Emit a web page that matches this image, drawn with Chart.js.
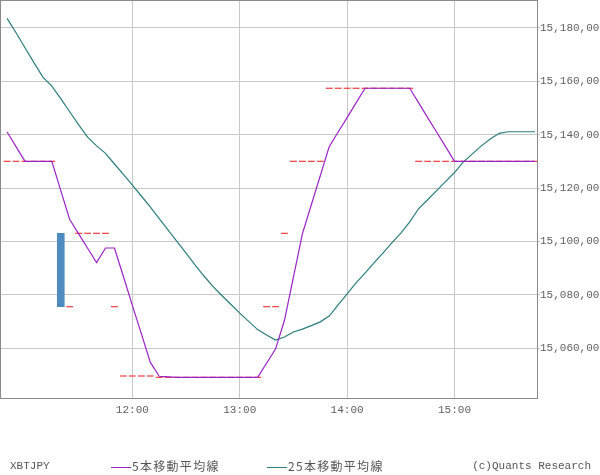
<!DOCTYPE html>
<html>
<head>
<meta charset="utf-8">
<script src="https://cdn.jsdelivr.net/npm/chart.js@4.4.1/dist/chart.umd.min.js"></script>
<style>
    body { margin: 0; background: #fff; }
    #wrap { position: relative; width: 600px; height: 475px; }
    .foot { position: absolute; top: 458px; font: 11px 'Liberation Mono', monospace; color: #555; white-space: nowrap; line-height: 16px; }
    .jp { font-family: 'Noto Sans CJK JP', sans-serif; font-size: 12px; letter-spacing: 1.3px; }
    .swatch { display: inline-block; width: 20px; height: 0; border-top: 1px solid; vertical-align: middle; margin-right: 1px; }
</style>
</head>
<body>
<div id="wrap">
    <canvas id="chart" width="600" height="475"></canvas>
    <div class="foot" style="left:10px;">XBTJPY</div>
    <div class="foot jp" style="left:111px;"><span class="swatch" style="border-color:#9a22c4"></span>5本移動平均線</div>
    <div class="foot jp" style="left:267px;"><span class="swatch" style="border-color:#2b7c7c"></span>25本移動平均線</div>
    <div class="foot" style="right:9px;">(c)Quants Research</div>
</div>
<script>
// 5-minute bars
const times = [
    '10:50', '10:55',
    '11:00', '11:05', '11:10', '11:15', '11:20', '11:25', '11:30', '11:35', '11:40', '11:45', '11:50', '11:55',
    '12:00', '12:05', '12:10', '12:15', '12:20', '12:25', '12:30', '12:35', '12:40', '12:45', '12:50', '12:55',
    '13:00', '13:05', '13:10', '13:15', '13:20', '13:25', '13:30', '13:35', '13:40', '13:45', '13:50', '13:55',
    '14:00', '14:05', '14:10', '14:15', '14:20', '14:25', '14:30', '14:35', '14:40', '14:45', '14:50', '14:55',
    '15:00', '15:05', '15:10', '15:15', '15:20', '15:25', '15:30', '15:35', '15:40', '15:45'
];

const candleOpen = [
    15130, 15130, 15130, 15130, 15130, 15130, 15103, 15075.5, 15103, 15103,
    15103, 15103, 15075.5, 15049.5, 15049.5, 15049.5, 15049.5, 15049, 15049, 15049,
    15049, 15049, 15049, 15049, 15049, 15049, 15049, 15049, 15049, 15075.5,
    15075.5, 15103, 15130, 15130, 15130, 15130, 15157.4, 15157.4, 15157.4, 15157.4,
    15157.4, 15157.4, 15157.4, 15157.4, 15157.4, 15157.4, 15130, 15130, 15130, 15130,
    15130, 15130, 15130, 15130, 15130, 15130, 15130, 15130, 15130, 15130
];

const candleClose = [
    15130, 15130, 15130, 15130, 15130, 15130, 15075.5, 15075.5, 15103, 15103,
    15103, 15103, 15075.5, 15049.5, 15049.5, 15049.5, 15049.5, 15049, 15049, 15049,
    15049, 15049, 15049, 15049, 15049, 15049, 15049, 15049, 15049, 15075.5,
    15075.5, 15103, 15130, 15130, 15130, 15130, 15157.4, 15157.4, 15157.4, 15157.4,
    15157.4, 15157.4, 15157.4, 15157.4, 15157.4, 15157.4, 15130, 15130, 15130, 15130,
    15130, 15130, 15130, 15130, 15130, 15130, 15130, 15130, 15130, 15130
];

const ma5 = [
    15141, 15135.5, 15130, 15130, 15130, 15130, 15119, 15108.2, 15102.8, 15097.4,
    15092, 15097.5, 15097.5, 15086.8, 15076, 15065.4, 15054.7, 15049.4, 15049.2, 15049,
    15049, 15049, 15049, 15049, 15049, 15049, 15049, 15049, 15049, 15054.3,
    15059.6, 15070.4, 15086.6, 15102.8, 15113.7, 15124.6, 15135.5, 15141, 15146.4, 15151.9,
    15157.4, 15157.4, 15157.4, 15157.4, 15157.4, 15157.4, 15151.9, 15146.4, 15141, 15135.5,
    15130, 15130, 15130, 15130, 15130, 15130, 15130, 15130, 15130, 15130
];

const ma25 = [
    15183.6, 15178.2, 15172.6, 15167, 15161.6, 15158.2, 15153.5, 15148.6, 15143.7, 15139.1,
    15135.8, 15133, 15129, 15125.1, 15121.1, 15117, 15112.9, 15108.5, 15104.2, 15099.9,
    15095.6, 15091.2, 15087, 15083.1, 15079.7, 15076.4, 15073.1, 15070, 15066.9, 15064.9,
    15063, 15064.1, 15066, 15067.1, 15068.4, 15069.8, 15072, 15076.2, 15080.3, 15084.4,
    15088.1, 15091.9, 15095.6, 15099.4, 15103.1, 15107.3, 15112.3, 15115.6, 15119, 15122.4,
    15125.8, 15129.8, 15132.8, 15135.8, 15138.4, 15140.5, 15141.1, 15141.1, 15141.1, 15141.1
];

const xTicks = ['12:00', '13:00', '14:00', '15:00'];
const yTicks = [15060, 15080, 15100, 15120, 15140, 15160, 15180];

const toMin = (s) => {
    const [h, m] = s.split(':').map(Number);
    return h * 60 + m;
};

const flatCandles = [];
const bodyCandles = [];
times.forEach((t, i) => {
    if (candleOpen[i] === candleClose[i]) {
        flatCandles.push({ x: toMin(t), y: candleClose[i] });
    } else {
        bodyCandles.push({ x: toMin(t), y: [candleOpen[i], candleClose[i]] });
    }
});

const tickFont = { family: "'Liberation Mono', monospace", size: 11 };

// frame round the plot area
const framePlugin = {
    id: 'frame',
    afterDraw(chart) {
        const ctx = chart.ctx;
        const a = chart.chartArea;
        ctx.save();
        ctx.strokeStyle = '#8a8a8a';
        ctx.lineWidth = 1;
        ctx.strokeRect(0.5, 0.5, a.right, a.bottom);
        ctx.restore();
    }
};

new Chart(document.getElementById('chart'), {
    type: 'line',
    data: {
        datasets: [
            {
                label: '5本移動平均線',
                data: times.map((t, i) => ({ x: toMin(t), y: ma5[i] })),
                borderColor: '#9a22c4',
                borderWidth: 1.2,
                pointRadius: 0,
                tension: 0,
                order: 0
            },
            {
                label: '25本移動平均線',
                data: times.map((t, i) => ({ x: toMin(t), y: ma25[i] })),
                borderColor: '#2b7c7c',
                borderWidth: 1.2,
                pointRadius: 0,
                tension: 0,
                order: 1
            },
            {
                type: 'scatter',
                label: 'flat',
                data: flatCandles,
                pointStyle: 'line',
                pointRadius: 3.4,
                borderColor: '#f03c3c',
                pointBorderColor: '#f03c3c',
                borderWidth: 1.2,
                pointBorderWidth: 1.2,
                order: 2
            },
            {
                type: 'bar',
                label: 'body',
                data: bodyCandles,
                backgroundColor: bodyCandles.map(c => c.y[1] < c.y[0] ? '#4e8bbf' : '#f03c3c'),
                barThickness: 7,
                order: 3
            }
        ]
    },
    options: {
        responsive: false,
        animation: false,
        events: [],
        layout: { autoPadding: false, padding: { left: 1, top: 0, right: 0, bottom: 0 } },
        plugins: { legend: { display: false }, tooltip: { enabled: false } },
        scales: {
            x: {
                type: 'linear',
                min: 646.6,
                max: 946.1,
                offset: false,
                afterBuildTicks: s => { s.ticks = xTicks.map(t => ({ value: toMin(t) })); },
                afterFit: s => { s.height = 77; s.paddingLeft = 0; s.paddingRight = 0; },
                grid: { color: '#c8c8c8', drawTicks: false, offset: false },
                border: { display: false },
                ticks: {
                    font: tickFont,
                    color: '#606060',
                    padding: 5,
                    maxRotation: 0,
                    autoSkip: false,
                    callback: (v, i) => xTicks[i]
                }
            },
            y: {
                type: 'linear',
                position: 'right',
                min: 15041.25,
                max: 15190.5,
                afterBuildTicks: s => { s.ticks = yTicks.map(v => ({ value: v })); },
                afterFit: s => { s.width = 63; s.paddingTop = 0; s.paddingBottom = 0; },
                grid: { color: '#c8c8c8', tickLength: 3, tickColor: '#c8c8c8' },
                border: { display: false },
                ticks: {
                    font: tickFont,
                    color: '#606060',
                    padding: 0,
                    autoSkip: false,
                    callback: v => v.toLocaleString('en-US') + ',00'
                }
            }
        }
    },
    plugins: [framePlugin]
});
</script>
</body>
</html>
